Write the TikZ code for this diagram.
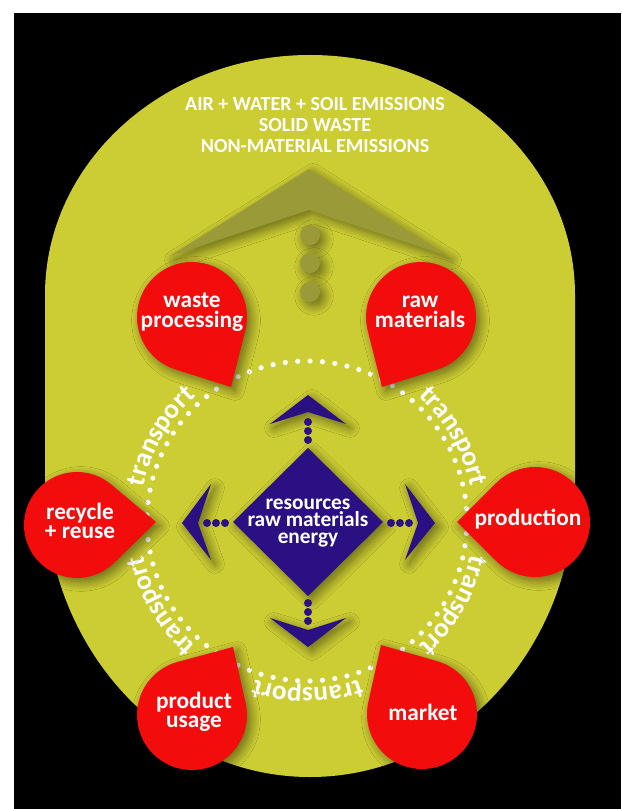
\documentclass[tikz,border=0pt]{standalone}
\usepackage{fontspec}
\setmainfont{Carlito}
\usetikzlibrary{decorations.text,shadows.blur}
\definecolor{plate}{HTML}{CCCC33}
\definecolor{oliv}{HTML}{9A9A38}
\definecolor{blobred}{HTML}{F20C0C}
\definecolor{navy}{HTML}{2A1082}
\newcommand\transfont{\bfseries\fontsize{20.5}{20.5}\selectfont}
\tikzset{
  softshadow/.style={blur shadow={shadow xshift=3pt, shadow yshift=-3pt, shadow blur radius=7pt, shadow blur steps=12, shadow opacity=50}},
  blobfill/.style={fill=blobred, softshadow},
  blobtext/.style={text=white, font=\bfseries\fontsize{17.5}{14.6}\selectfont, align=center, inner sep=0pt},
  midtext/.style={text=white, font=\bfseries\fontsize{16}{12.4}\selectfont, align=center, inner sep=0pt},
  toptext/.style={text=white, font=\bfseries\fontsize{15}{15.8}\selectfont, align=center, inner sep=0pt},
  navyfill/.style={fill=navy, softshadow},
  olivefill/.style={fill=oliv, softshadow},
}
% teardrop: name, cx, cy, tipx, tipy, r
\newcommand\teardrop[6]{%
  \pgfmathsetmacro\tdang{atan2(#5-#3,#4-#2)}%
  \pgfmathsetmacro\tdd{veclen(#4-#2,#5-#3)}%
  \pgfmathsetmacro\tdb{acos(#6/\tdd)}%
  \pgfmathsetmacro\tds{\tdang+\tdb}%
  \pgfmathsetmacro\tde{\tdang-\tdb+360}%
  \pgfmathsetmacro\tdx{#2+#6*cos(\tds)}%
  \pgfmathsetmacro\tdy{#3+#6*sin(\tds)}%
  \path[blobfill] (#4,#5) coordinate (#1-tip) -- (\tdx,\tdy) arc[start angle=\tds, end angle=\tde, radius=#6] -- cycle;
  \coordinate (#1) at (#2,#3);
}
% transport label centred at angle
\newcommand\transport[1]{%
  \pgfmathsetmacro\tra{#1-26}%
  \pgfmathsetmacro\trb{#1+26}%
  \pgfmathsetmacro\trx{307+167*cos(\tra)}%
  \pgfmathsetmacro\try{521+167*sin(\tra)}%
  \path[decorate, decoration={text along path, text align=center, text color=white, text={|\transfont|transport}}]
     (\trx,\try) arc[start angle=\tra, end angle=\trb, radius=167];
}
\begin{document}
\begin{tikzpicture}[x=0.75pt,y=-0.75pt]
\useasboundingbox (0,0) rectangle (621,809);
\fill[white] (0,0) rectangle (621,809);
\fill[black] (14,13) rectangle (621,809);
% yellow plate
\fill[plate] (45,295) arc[start angle=180, end angle=360, x radius=265, y radius=240]
  -- (575,487) arc[start angle=0, end angle=180, x radius=265, y radius=290] -- cycle;
% emissions chevron and dots
\path[olivefill] (309,169) -- (448,256) -- (309,210) -- (170,256) -- cycle;
\foreach \yy in {235,263,292} \path[olivefill] (310,\yy) circle[radius=10];
% top text
\node[toptext] (emis) at (315,125) {AIR + WATER + SOIL EMISSIONS\\SOLID WASTE\\NON-MATERIAL EMISSIONS};
% dotted transport ring
\foreach \i in {0,...,80} \fill[white] ({307+160*cos(\i*4.444444)},{521+160*sin(\i*4.444444)}) circle[radius=2.6];
% transport labels
\transport{210}
\transport{330}
\transport{30}
\transport{90}
\transport{150}
% centre diamond and arrows
\path[navyfill] (308,448) -- (383,522) -- (308,596) -- (233,522) -- cycle;
\path[navyfill] (308,395) -- (346,424) -- (308,412) -- (270,424) -- cycle;
\path[navyfill] (308,647) -- (346,618) -- (308,630) -- (270,618) -- cycle;
\path[navyfill] (182,523) -- (211,484) -- (198,523) -- (211,560) -- cycle;
\path[navyfill] (435,523) -- (405,484) -- (418,523) -- (405,560) -- cycle;
\foreach \p in {422,431,440,603,612,621} \fill[navy] (308,\p) circle[radius=4];
\foreach \p in {207,216,225,391,400,409} \fill[navy] (\p,523) circle[radius=4];
\node[midtext] (res) at (308,523) {resources\\raw materials\\energy};
% red teardrops
\teardrop{waste}{192}{317}{231}{387}{55}
\teardrop{raw}{421}{317}{382}{387}{55}
\teardrop{recyc}{77}{525}{156}{522}{53}
\teardrop{prod}{535}{522}{457}{522}{55}
\teardrop{usage}{192}{715}{233}{647}{55}
\teardrop{market}{422}{714}{381}{645}{55}
\node[blobtext] (wasteL) at (192,312) {waste\\processing};
\node[blobtext] (rawL) at (420,312) {raw\\materials};
\node[blobtext] (recycL) at (80,521) {recycle\\+ reuse};
\node[blobtext] (prodL) at (528,519) {production};
\node[blobtext] (usageL) at (194,712) {product\\usage};
\node[blobtext] (marketL) at (423,712) {market};
\end{tikzpicture}
\end{document}
